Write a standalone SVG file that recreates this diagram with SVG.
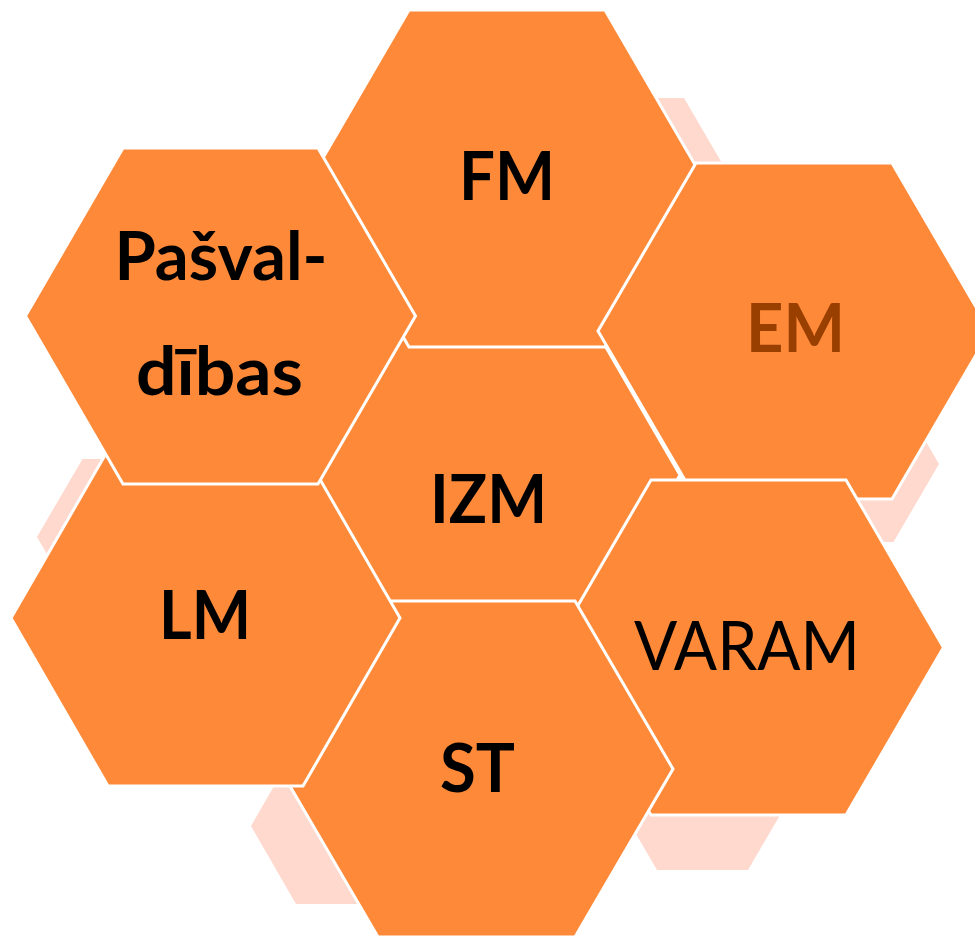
<svg xmlns="http://www.w3.org/2000/svg" width="975" height="937" viewBox="0 0 975 937">
  <style>
    .shadow { fill: #FFD9CE; stroke: none; }
    .hex { fill: #FE8A39; stroke: #FFFFFF; stroke-width: 3; stroke-linejoin: miter; }
    .lbl { font-family: Lato, "Open Sans", "Liberation Sans", sans-serif; font-size: 67px; font-weight: bold; fill: #000000; text-anchor: middle; }
    .reg { font-weight: normal; }
    .em { fill: #993F00; }
  </style>
  <rect width="975" height="937" fill="#FFFFFF"/>
  <g id="shadows">
    <polygon class="shadow" points="547.5,176 593,98 684,98 729.5,176 684,254 593,254"/>
    <polygon class="shadow" points="757,464 802.5,386 893.5,386 939,464 893.5,542 802.5,542"/>
    <polygon class="shadow" points="37,537 82.5,459 173.5,459 219,537 173.5,615 82.5,615"/>
    <polygon class="shadow" points="251,826 296,748 386,748 431,826 386,904 296,904"/>
    <polygon class="shadow" points="611.5,792 657,714 748,714 793.5,792 748,870 657,870"/>
  </g>
  <g id="connectors"></g>
  <g id="node-IZM">
    <polygon class="hex" points="300,475 395,311 585,311 680,475 585,639 395,639"/>
    <text class="lbl" x="488.5" y="523" textLength="117" lengthAdjust="spacingAndGlyphs">IZM</text>
  </g>
  <g id="node-FM">
    <polygon class="hex" points="311,178.5 409,10 605,10 703,178.5 605,347 409,347"/>
    <text class="lbl" x="507" y="200" textLength="96" lengthAdjust="spacingAndGlyphs">FM</text>
  </g>
  <g id="node-EM">
    <polygon class="hex" points="598,331 696,163 892,163 990,331 892,499 696,499"/>
    <text class="lbl em" x="795.5" y="352" textLength="99" lengthAdjust="spacingAndGlyphs">EM</text>
  </g>
  <g id="node-VARAM">
    <polygon class="hex" points="553.5,647.5 651,480 846,480 943.5,647.5 846,815 651,815"/>
    <text class="lbl reg" x="747" y="670" textLength="226" lengthAdjust="spacingAndGlyphs">VARAM</text>
  </g>
  <g id="node-ST">
    <polygon class="hex" points="280,769 378,601 575,601 673,769 575,937 378,937"/>
    <text class="lbl" x="477.5" y="792" textLength="75" lengthAdjust="spacingAndGlyphs">ST</text>
  </g>
  <g id="node-LM">
    <polygon class="hex" points="11,618 108,450 303,450 400,618 303,786 108,786"/>
    <text class="lbl" x="205" y="639" textLength="92" lengthAdjust="spacingAndGlyphs">LM</text>
  </g>
  <g id="node-Pasvaldibas">
    <polygon class="hex" points="25.5,316 123,148 318,148 415.5,316 318,484 123,484"/>
    <text class="lbl" x="221" y="280" textLength="213" lengthAdjust="spacingAndGlyphs">Pašval-</text>
    <text class="lbl" x="219.5" y="395" textLength="167" lengthAdjust="spacingAndGlyphs">dības</text>
  </g>
</svg>
